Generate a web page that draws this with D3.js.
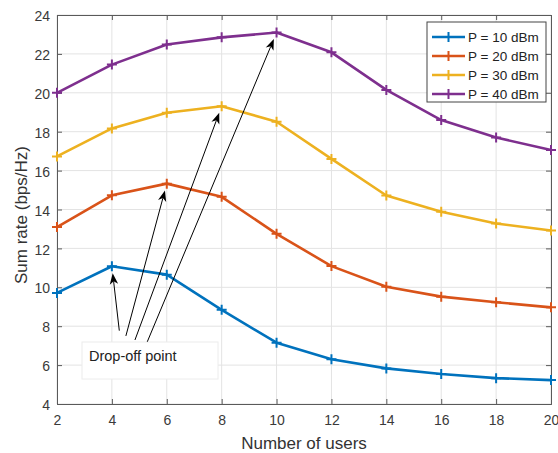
<!DOCTYPE html>
<html>
<head>
<meta charset="utf-8">
<script src="https://cdn.jsdelivr.net/npm/d3@7"></script>
<style>
body{margin:0;background:#fff;}
text{font-family:"Liberation Sans",Arial,sans-serif;}
</style>
</head>
<body>
<svg id="chart" width="558" height="453"></svg>
<script>
// values
var users = [2, 4, 6, 8, 10, 12, 14, 16, 18, 20];
var p10 = [9.71, 11.08, 10.65, 8.84, 7.15, 6.3, 5.83, 5.54, 5.33, 5.23];
var p20 = [13.1, 14.73, 15.33, 14.65, 12.75, 11.09, 10.03, 9.52, 9.23, 8.97];
var p30 = [16.73, 18.17, 18.97, 19.31, 18.51, 16.6, 14.72, 13.88, 13.28, 12.92];
var p40 = [20.0, 21.45, 22.48, 22.85, 23.1, 22.08, 20.15, 18.6, 17.7, 17.06];
var seriesNames = ["P = 10 dBm", "P = 20 dBm", "P = 30 dBm", "P = 40 dBm"];
var seriesColors = ["#0072BD", "#D95319", "#EDB120", "#7E2F8E"];
var xTicks = [2, 4, 6, 8, 10, 12, 14, 16, 18, 20];
var yTicks = [4, 6, 8, 10, 12, 14, 16, 18, 20, 22, 24];
// drop-off arrows: tail (in axis units) -> peak point index of each series
var arrowTails = [[4.27, 7.77], [4.51, 7.5], [4.84, 7.29], [5.29, 7.2]];
var arrowPeaks = [1, 2, 3, 4];

var svg = d3.select("#chart");
var pl = 57, pr = 551, pt = 15, pb = 404;
var x = d3.scaleLinear().domain([2, 20]).range([pl, pr]);
var y = d3.scaleLinear().domain([4, 24]).range([pb, pt]);
var axisColor = "#5a5a5a", gridColor = "#e3e3e3";

// grid
var grid = svg.append("g");
grid.selectAll(".gx").data(xTicks).enter().append("line")
    .attr("x1", d => x(d)).attr("x2", d => x(d)).attr("y1", pt).attr("y2", pb)
    .attr("stroke", gridColor).attr("stroke-width", 1);
grid.selectAll(".gy").data(yTicks).enter().append("line")
    .attr("y1", d => y(d)).attr("y2", d => y(d)).attr("x1", pl).attr("x2", pr)
    .attr("stroke", gridColor).attr("stroke-width", 1);

// axes (ticks inward, matlab style)
var xAxis = svg.append("g").attr("transform", "translate(0," + pb + ")")
    .call(d3.axisBottom(x).tickValues(xTicks).tickSize(-5).tickPadding(11));
var yAxis = svg.append("g").attr("transform", "translate(" + pl + ",0)")
    .call(d3.axisLeft(y).tickValues(yTicks).tickSize(-5).tickPadding(7));
var xTop = svg.append("g").attr("transform", "translate(0," + pt + ")")
    .call(d3.axisTop(x).tickValues(xTicks).tickSize(-5).tickFormat(""));
var yRight = svg.append("g").attr("transform", "translate(" + pr + ",0)")
    .call(d3.axisRight(y).tickValues(yTicks).tickSize(-5).tickFormat(""));
[xAxis, yAxis, xTop, yRight].forEach(function(a){
    a.select(".domain").attr("stroke", axisColor).attr("stroke-width", 1);
    a.selectAll(".tick line").attr("stroke", axisColor);
    a.selectAll(".tick text").attr("fill", "#3a3a3a").style("font-size", "14px")
        .style("font-family", "'Liberation Sans',Arial,sans-serif");
});
yAxis.selectAll(".tick text").attr("dy", "0.4em");

// annotation box
svg.append("rect").attr("x", 82).attr("y", 342).attr("width", 136).attr("height", 37)
    .attr("fill", "#fff").attr("stroke", "#ececec");
svg.append("text").attr("x", 89).attr("y", 361).attr("fill", "#222")
    .style("font-size", "14.5px").text("Drop-off point");

// series
var allSeries = [p10, p20, p30, p40];
var line = d3.line().x((d, i) => x(users[i])).y(d => y(d));
allSeries.forEach(function(vals, k){
    var g = svg.append("g");
    g.append("path").datum(vals).attr("d", line).attr("fill", "none")
        .attr("stroke", seriesColors[k]).attr("stroke-width", 2.6).attr("stroke-linejoin", "round");
    g.selectAll("path.mk").data(vals).enter().append("path").attr("class", "mk")
        .attr("d", (d, i) => "M" + (x(users[i]) - 5) + "," + y(d) + "h10M" + x(users[i]) + "," + (y(d) - 5) + "v10")
        .attr("stroke", seriesColors[k]).attr("stroke-width", 2);
});

// arrows
var arrowG = svg.append("g");
arrowTails.forEach(function(t, k){
    var pi = arrowPeaks[k];
    var vals = allSeries[k];
    var x0 = x(t[0]), y0 = y(t[1]);
    var px = x(users[pi]), py = y(vals[pi]);
    var dx = px - x0, dy = py - y0, len = Math.sqrt(dx * dx + dy * dy);
    var ux = dx / len, uy = dy / len;
    var tx = px - ux * 7, ty = py - uy * 7;  // tip stops just short of the point
    var hl = 11, hw = 4.2, back = 8;
    var bx = tx - ux * hl, by = ty - uy * hl;
    var nx = -uy, ny = ux;
    arrowG.append("line").attr("x1", x0).attr("y1", y0)
        .attr("x2", tx - ux * back).attr("y2", ty - uy * back)
        .attr("stroke", "#000").attr("stroke-width", 1);
    var mx = tx - ux * back, my = ty - uy * back;
    arrowG.append("path")
        .attr("d", "M" + tx + "," + ty + "L" + (bx + nx * hw) + "," + (by + ny * hw) +
            "L" + mx + "," + my + "L" + (bx - nx * hw) + "," + (by - ny * hw) + "Z")
        .attr("fill", "#000");
});

// legend
var lg = svg.append("g").attr("transform", "translate(427,22)");
lg.append("rect").attr("width", 119).attr("height", 80).attr("fill", "#fff").attr("stroke", "#444").attr("stroke-width", 1);
seriesNames.forEach(function(name, k){
    var yy = 15 + k * 19;
    lg.append("line").attr("x1", 5).attr("x2", 38).attr("y1", yy).attr("y2", yy)
        .attr("stroke", seriesColors[k]).attr("stroke-width", 2.6);
    lg.append("path").attr("d", "M" + 16.5 + "," + yy + "h10M21.5," + (yy - 5) + "v10")
        .attr("stroke", seriesColors[k]).attr("stroke-width", 2);
    lg.append("text").attr("x", 41).attr("y", yy + 5).attr("fill", "#222")
        .style("font-size", "13.5px").text(name);
});

// axis labels
svg.append("text").attr("x", (pl + pr) / 2).attr("y", 449).attr("text-anchor", "middle")
    .attr("fill", "#333").style("font-size", "17px").text("Number of users");
svg.append("text").attr("transform", "translate(27,215) rotate(-90)")
    .attr("text-anchor", "middle").attr("fill", "#333").style("font-size", "17px").text("Sum rate (bps/Hz)");
</script>
</body>
</html>
